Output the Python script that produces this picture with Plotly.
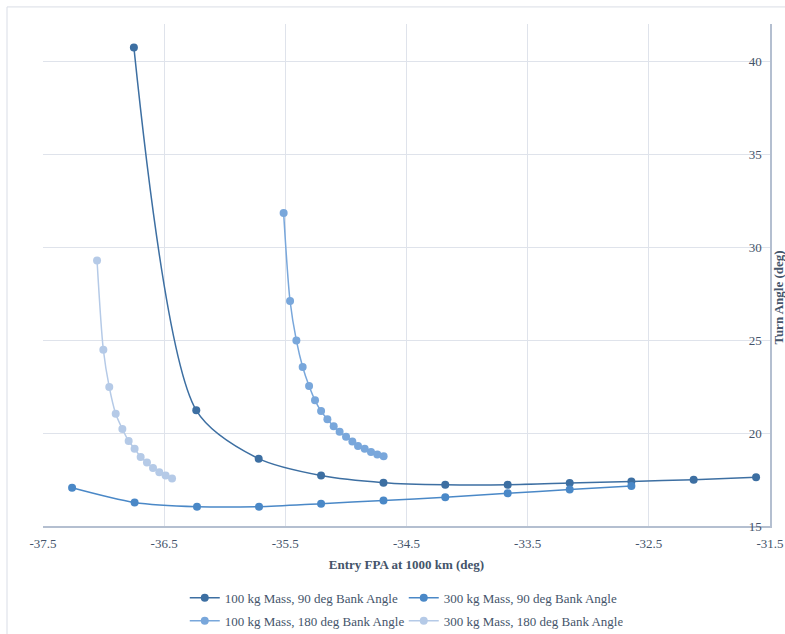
import plotly.graph_objects as go

# Entry flight-path angle (deg) vs. turn angle (deg) for each case
fpa_100kg_90 = [-36.75, -36.235, -35.72, -35.205, -34.69, -34.18, -33.665, -33.153, -32.644, -32.13, -31.615]
turn_100kg_90 = [40.74, 21.22, 18.62, 17.71, 17.33, 17.22, 17.22, 17.31, 17.40, 17.49, 17.62]

fpa_300kg_90 = [-37.26, -36.744, -36.229, -35.717, -35.205, -34.69, -34.18, -33.665, -33.153, -32.644]
turn_300kg_90 = [17.06, 16.27, 16.04, 16.04, 16.20, 16.37, 16.54, 16.76, 16.96, 17.15]

fpa_100kg_180 = [-35.514, -35.461, -35.409, -35.357, -35.304, -35.255, -35.205, -35.153, -35.101,
                 -35.052, -34.999, -34.947, -34.90, -34.845, -34.793, -34.741, -34.689]
turn_100kg_180 = [31.83, 27.10, 24.98, 23.55, 22.53, 21.76, 21.18, 20.74, 20.36,
                  20.07, 19.80, 19.55, 19.30, 19.16, 18.98, 18.85, 18.75]

fpa_300kg_180 = [-37.054, -37.002, -36.953, -36.90, -36.845, -36.793, -36.744, -36.694,
                 -36.642, -36.592, -36.54, -36.488, -36.435]
turn_300kg_180 = [29.28, 24.48, 22.47, 21.04, 20.22, 19.57, 19.16, 18.71,
                  18.41, 18.12, 17.89, 17.71, 17.55]

x_ticks = [-37.5, -36.5, -35.5, -34.5, -33.5, -32.5, -31.5]
y_ticks = [15, 20, 25, 30, 35, 40]

# (name, x, y, colour, legend row)
series = [
    ("100 kg Mass, 90 deg Bank Angle", fpa_100kg_90, turn_100kg_90, "#3d6fa2", "legend"),
    ("300 kg Mass, 90 deg Bank Angle", fpa_300kg_90, turn_300kg_90, "#4a88c7", "legend"),
    ("100 kg Mass, 180 deg Bank Angle", fpa_100kg_180, turn_100kg_180, "#79a7db", "legend2"),
    ("300 kg Mass, 180 deg Bank Angle", fpa_300kg_180, turn_300kg_180, "#b5cae7", "legend2"),
]

FONT = "Liberation Serif, Times New Roman, serif"
TEXT = "#44546a"
GRID = "#dfe3eb"
AXIS = "#b4bfd0"

fig = go.Figure()
for name, xs, ys, color, leg in series:
    fig.add_trace(go.Scatter(
        x=xs, y=ys, name=name, mode="lines+markers", legend=leg,
        line=dict(color=color, width=1.5, shape="spline", smoothing=0.8),
        marker=dict(color=color, size=8),
    ))

legend_style = dict(
    orientation="h", xanchor="left", yanchor="middle",
    entrywidth=174, entrywidthmode="pixels", itemwidth=30,
    font=dict(family=FONT, size=13, color=TEXT),
    traceorder="normal", bgcolor="rgba(0,0,0,0)",
)

fig.update_layout(
    width=785, height=634,
    margin=dict(l=43, r=15, t=24, b=108, autoexpand=False),
    paper_bgcolor="white", plot_bgcolor="white",
    font=dict(family=FONT, size=13, color=TEXT),
    hovermode=False,
    showlegend=True,
    legend=dict(x=0.195, y=-0.143, **legend_style),
    legend2=dict(x=0.195, y=-0.189, **legend_style),
    xaxis=dict(
        range=[-37.5, -31.5], tickvals=x_ticks, ticktext=[f"{v:g}" for v in x_ticks],
        showgrid=True, gridcolor=GRID, gridwidth=1,
        showline=True, linecolor=AXIS, linewidth=1.5,
        zeroline=False, ticks="", ticklen=0, ticklabelstandoff=5,
        ticklabeloverflow="allow",
        tickfont=dict(family=FONT, size=13, color=TEXT),
        title=dict(text="<b>Entry FPA at 1000 km (deg)</b>",
                   font=dict(family=FONT, size=13, color=TEXT), standoff=10),
    ),
    yaxis=dict(
        range=[15, 42], tickvals=y_ticks, side="right",
        ticklabelposition="inside", ticklabelstandoff=8,
        ticklabeloverflow="allow",
        showgrid=True, gridcolor=GRID, gridwidth=1,
        showline=True, linecolor=AXIS, linewidth=1.5,
        zeroline=False, ticks="",
        tickfont=dict(family=FONT, size=13, color=TEXT),
    ),
)

# Y-axis title sits to the right of the axis line
fig.add_annotation(
    text="<b>Turn Angle (deg)</b>", textangle=-90,
    xref="paper", yref="paper", x=1.0, xshift=9, y=0.455,
    xanchor="center", yanchor="middle", showarrow=False,
    font=dict(family=FONT, size=13, color=TEXT),
)

# Outer chart frame
fig.add_shape(
    type="rect", xref="paper", yref="paper",
    x0=-0.0495, x1=1.06, y0=-0.25, y1=1.034,
    line=dict(color="#d9dde6", width=1), fillcolor="rgba(0,0,0,0)", layer="below",
)

fig.write_html("out.html")
